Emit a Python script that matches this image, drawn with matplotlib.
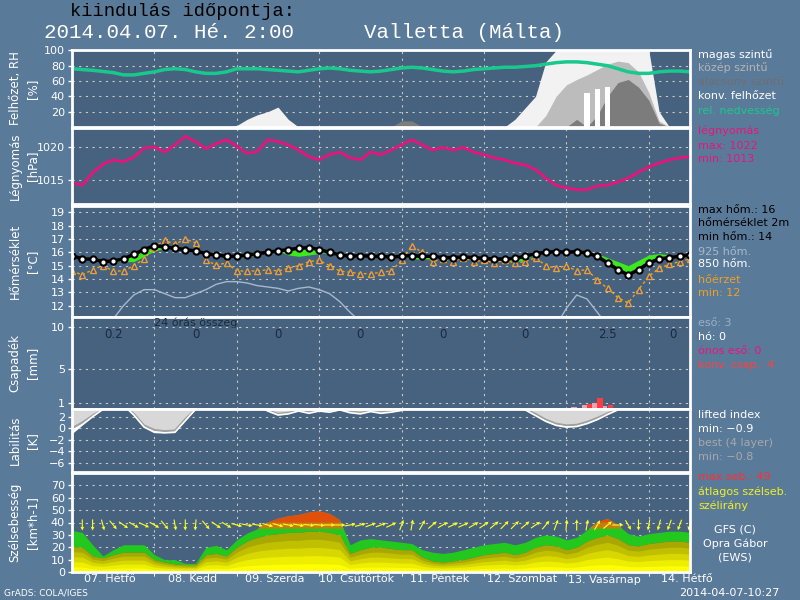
import numpy as np
import matplotlib

matplotlib.use("Agg")
import matplotlib.pyplot as plt

# 3-hourly GFS steps, hours after 2014-04-07 00 UTC
hours = np.arange(0, 181, 3)

rel_hum = [76, 75, 74, 72.5, 71, 68, 68, 70, 72, 75, 76, 75, 72, 70, 70, 72,
           76, 76, 76, 75, 74, 73, 72, 74, 76, 77, 76, 74, 73, 72, 73, 75,
           77, 78, 77, 75, 73, 72, 73, 75, 76, 77, 78, 78, 79, 80, 82, 84,
           85, 85, 84, 82, 80, 76, 72, 70, 70, 72, 73, 73, 72]
cloud_high = [0] * 16 + [2, 10, 16, 20, 26, 10] + [0] * 21 + \
             [10, 25, 40, 85] + [100] * 10 + [20, 0, 0, 0]
cloud_mid = [0] * 46 + [15, 40, 55, 62, 68, 75, 82, 86, 84, 72, 45, 8, 0, 0, 0]
cloud_low = [0] * 32 + [8, 8] + [0] * 15 + [10, 0, 15, 40, 58, 62, 52, 35, 5, 0, 0, 0]
conv_cloud = [0] * 50 + [45, 49, 52] + [0] * 8

pressure = [1014.6, 1014.2, 1016.1, 1017.4, 1018.1, 1017.8, 1018.5, 1019.9,
            1020.1, 1019.3, 1020.4, 1021.7, 1020.9, 1019.8, 1020.6, 1021.2,
            1020.2, 1019.1, 1019.4, 1021.2, 1020.9, 1020.4, 1019.6, 1018.6,
            1018.1, 1018.9, 1019.3, 1018.4, 1018.1, 1019.3, 1018.9, 1019.6,
            1020.4, 1021.2, 1020.4, 1019.6, 1020.0, 1019.6, 1020.0, 1019.3,
            1018.9, 1018.4, 1018.1, 1017.6, 1017.3, 1016.6, 1015.3, 1014.2,
            1013.8, 1013.5, 1013.5, 1014.1, 1014.2, 1014.7, 1015.3, 1016.2,
            1017.0, 1017.6, 1018.1, 1018.4, 1018.6]

temp_2m = [15.75, 15.5, 15.5, 15.3, 15.35, 15.5, 15.85, 16.2, 16.5, 16.4,
           16.3, 16.2, 16.1, 15.9, 15.8, 15.7, 15.7, 15.8, 15.9, 16.0, 16.1,
           16.2, 16.3, 16.35, 16.2, 16.0, 15.8, 15.7, 15.75, 15.7, 15.7,
           15.65, 15.7, 15.75, 15.7, 15.7, 15.6, 15.6, 15.65, 15.6, 15.55,
           15.5, 15.5, 15.55, 15.7, 15.9, 16.0, 16.05, 16.0, 16.05, 15.95,
           15.7, 15.2, 14.7, 14.3, 14.7, 15.2, 15.5, 15.6, 15.7, 15.8]
temp_band = [15.75, 15.65, 15.65, 15.3, 15.35, 15.3, 15.3, 15.7, 16.1, 16.3,
             16.3, 16.2, 16.1, 16.0, 15.9, 15.7, 15.7, 15.8, 15.9, 16.0, 16.1,
             15.8, 15.7, 15.8, 15.9, 16.0, 15.8, 15.7, 15.75, 15.7, 15.7,
             15.65, 15.7, 15.5, 15.5, 15.5, 15.6, 15.6, 15.65, 15.6, 15.55,
             15.5, 15.5, 15.3, 15.4, 15.9, 16.0, 16.05, 16.0, 16.05, 16.0,
             15.9, 15.6, 15.3, 15.0, 15.4, 15.8, 15.9, 15.8, 15.7, 15.8]
temp_925 = [9.5, 9.8, 10.2, 10.6, 11.0, 12.0, 12.8, 13.2, 13.2, 12.9, 12.6,
            12.6, 12.9, 13.2, 13.6, 13.8, 13.8, 13.7, 13.5, 13.4, 13.3, 13.1,
            13.3, 13.4, 13.2, 12.9, 12.3, 11.5, 10.8, 10.2] + [9.8] * 17 + \
           [10.5, 11.8, 12.8, 12.5, 11.5, 10.5, 9.8, 9.6, 9.5, 9.5, 9.5, 9.5, 9.5, 9.5]
feels_like = [14.6, 14.3, 14.7, 15.0, 14.6, 14.6, 15.0, 15.5, 16.4, 16.9,
              16.6, 17.0, 16.7, 15.4, 15.05, 15.2, 14.6, 14.6, 14.6, 14.7,
              14.6, 14.8, 15.0, 15.3, 15.4, 15.0, 14.6, 14.5, 14.4, 14.4,
              14.5, 14.6, 15.4, 16.5, 16.0, 15.3, 15.5, 15.3, 15.6, 15.3,
              15.4, 15.2, 15.4, 15.2, 15.3, 15.6, 15.0, 14.8, 15.0, 14.6,
              14.7, 13.9, 13.3, 12.6, 12.2, 13.2, 14.2, 14.8, 15.1, 15.3, 15.5]

rain = [0] * 49 + [0.5, 0.7, 1.0, 0.6, 0.3] + [0] * 7
conv_precip = [0] * 49 + [0.3, 0.9, 1.5, 0.7, 0] + [0] * 7
day_sums = ["0.2", "0", "0", "0", "0", "0", "2.5", "0"]

lifted = [-0.9, 0.6, 2.0, 3.3, 4, 4, 2.3, 0.2, -0.7, -0.8, -0.7, 1.3, 3.3,
          4, 4, 4, 4, 4, 4, 3.0, 2.3, 2.5, 3.0, 2.6, 3.0, 2.8, 3.2, 2.7,
          2.5, 2.9, 2.6, 2.8, 3.1] + [4] * 11 + \
         [3.2, 2.2, 1.2, 0.5, 0.2, 0.3, 0.8, 1.5, 2.4, 3.2, 4, 4, 4, 4, 4, 4, 4]
best_lifted = [0.0, 1.0, 2.2, 3.3, 4, 4, 2.5, 0.5, -0.3, -0.5, -0.4, 1.6,
               3.3, 4, 4, 4, 4, 4, 4, 3.1, 2.5, 2.7, 3.1, 2.8, 3.1, 2.9, 3.3,
               2.9, 2.7, 3.0, 2.8, 3.0, 3.2] + [4] * 11 + \
              [3.3, 2.5, 1.5, 0.8, 0.5, 0.6, 1.1, 1.8, 2.6, 3.3, 4, 4, 4, 4, 4, 4, 4]

wind_avg = [20.5, 20, 13, 11.5, 14, 16, 16, 16, 10, 8, 6.5, 6, 6, 14, 15, 13,
            20, 25, 28, 30, 31, 32, 32, 33, 33, 32, 30, 15, 18, 20, 20, 19,
            18, 18, 12, 9, 8, 9, 10, 12, 14, 15, 16, 14, 16, 20, 22, 21, 18,
            20, 25, 28, 30, 27, 22, 21, 23, 24, 25, 25, 24]
wind_gust = [33.5, 32, 22, 13, 18, 22, 22, 22, 14, 10, 10, 7, 7, 20, 21.5,
             18, 26, 31.5, 35, 40, 43, 45, 46, 48, 49, 47, 42, 22, 26, 27, 26,
             25, 24, 23, 18, 16, 15, 16, 18, 20, 22, 23, 24, 22, 24, 28, 30,
             29, 26, 28, 34, 40, 43, 38, 31, 29, 31, 32, 33, 33, 32]
wind_dir = [0, 0, 0, 345, 320, 305, 300, 295, 300, 320, 350, 0, 5, 320, 305,
            300, 285, 280, 280, 285, 285, 280, 280, 275, 275, 270, 270, 260,
            255, 250, 250, 245, 200, 190, 210, 230, 240, 245, 245, 240, 235,
            230, 225, 225, 230, 235, 220, 200, 185, 180, 190, 210, 230, 270,
            330, 0, 10, 15, 20, 20, 20]

day_labels = ["07. Hétfő", "08. Kedd", "09. Szerda", "10. Csütörtök",
              "11. Péntek", "12. Szombat", "13. Vasárnap", "14. Hétfő"]

FIG_BG = "#5a7a9a"
AX_BG = "#46627f"
W, H = 800, 600
X0, X1 = 72, 690


def fx(x):
    return x / W


def fy(y):
    return 1 - y / H


def panel(fig, top, bottom, ylim, yticks):
    ax = fig.add_axes([fx(X0), fy(bottom), (X1 - X0) / W, (bottom - top) / H])
    ax.set_facecolor(AX_BG)
    ax.set_xlim(0, 180)
    ax.set_ylim(*ylim)
    ax.set_yticks(yticks)
    ax.set_xticks(np.arange(24, 180, 24))
    ax.tick_params(axis="x", length=0, labelbottom=False)
    ax.tick_params(axis="y", colors="white", labelsize=8, length=3, width=1, pad=2)
    ax.grid(True, color="#c8c8c8", linestyle=(0, (2, 4)), linewidth=0.8)
    ax.set_axisbelow(True)
    for s in ax.spines.values():
        s.set_color("white")
        s.set_linewidth(2)
    return ax


def ylabel(fig, top, bottom, text):
    fig.text(fx(24), fy((top + bottom) / 2), text, rotation=90, ha="center",
             va="center", multialignment="center", linespacing=1.5,
             color="white", fontsize=8.5)


def legend(fig, y, text, color):
    fig.text(fx(698), fy(y), text, color=color, fontsize=8, va="center")


fig = plt.figure(figsize=(8, 6), dpi=100, facecolor=FIG_BG)

# titles
fig.text(fx(70), fy(12), "kiindulás időpontja:", family="Liberation Mono",
         fontsize=13.5, color="black", va="center")
fig.text(fx(44), fy(32), "2014.04.07. Hé. 2:00", family="Liberation Mono",
         fontsize=15, color="white", va="center")
fig.text(fx(364), fy(32), "Valletta (Málta)", family="Liberation Mono",
         fontsize=15, color="white", va="center")

# 1. clouds and relative humidity
ax1 = panel(fig, 50, 127, (0, 100.5), [20, 40, 60, 80, 100])
ax1.fill_between(hours, 0, cloud_high, color="#f2f2f2", lw=0)
ax1.fill_between(hours, 0, cloud_mid, color="#bcbcbc", lw=0)
ax1.fill_between(hours, 0, cloud_low, color="#7c7c7c", lw=0)
ax1.bar(hours, conv_cloud, width=1.5, color="white", lw=0)
ax1.plot(hours, rel_hum, color="#19c88c", lw=2.5)
ylabel(fig, 50, 127, "Felhőzet, RH\n[%]")
legend(fig, 55, "magas szintű", "white")
legend(fig, 68, "közép szintű", "#b4b4b4")
legend(fig, 82, "alacsony szintű", "#6e6e6e")
legend(fig, 96, "konv. felhőzet", "white")
legend(fig, 111, "rel. nedvesség", "#19c88c")

# 2. pressure
ax2 = panel(fig, 128, 204, (1011.3, 1023.0), [1015, 1020])
ax2.plot(hours, pressure, color="#e8147c", lw=2)
ylabel(fig, 128, 204, "Légnyomás\n[hPa]")
legend(fig, 131, "légnyomás", "#e8147c")
legend(fig, 146, "max: 1022", "#e8147c")
legend(fig, 159, "min: 1013", "#e8147c")

# 3. temperature
ax3 = panel(fig, 206, 317, (11.15, 19.47), range(12, 20))
ax3.plot(hours, temp_925, color="#a8b8cc", lw=1)
ax3.fill_between(hours, temp_2m, temp_band, color="#3ce81e", lw=0)
ax3.plot(hours, feels_like, color="#f0a020", lw=1, linestyle=(0, (2, 2)),
         marker="^", markersize=4.5, markerfacecolor="#3050c8",
         markeredgecolor="#f0a020", markeredgewidth=1)
ax3.plot(hours, temp_2m, color="black", lw=2.5, marker="o", markersize=4.5,
         markerfacecolor="white", markeredgecolor="black", markeredgewidth=1.5)
ylabel(fig, 206, 317, "Hőmérséklet\n[°C]")
legend(fig, 210, "max hőm.: 16", "black")
legend(fig, 223, "hőmérséklet 2m", "black")
legend(fig, 237, "min hőm.: 14", "black")
legend(fig, 252, "925 hőm.", "#a8b8cc")
legend(fig, 264, "850 hőm.", "white")
legend(fig, 280, "hőérzet", "#f0a020")
legend(fig, 293, "min: 12", "#f0a020")

# 4. precipitation
ax4 = panel(fig, 317, 409, (0.25, 11.15), [1, 5, 10])
ax4.bar(hours - 0.8, rain, width=1.5, color="#f0a0b4", lw=0)
ax4.bar(hours + 0.8, conv_precip, width=1.5, color="#ff3c3c", lw=0)
ax4.text(36, 10.45, "24 órás összeg", color="#1c2a3a", fontsize=8,
         ha="center", va="center")
sum_x = [12 + 24 * k for k in range(7)] + [175]
for xs, s in zip(sum_x, day_sums):
    ax4.text(xs, 9.05, s, color="#1c2a3a", fontsize=8.5, ha="center", va="center")
ylabel(fig, 317, 409, "Csapadék\n[mm]")
legend(fig, 323, "eső: 3", "#9ab0c8")
legend(fig, 337, "hó: 0", "white")
legend(fig, 351, "ónos eső: 0", "#e8147c")
legend(fig, 365, "konv. csap.: 4", "#ff4040")

# 5. lability
ax5 = panel(fig, 409, 472, (-7.6, 3.35), [2, 0, -2, -4, -6])
li = np.array(lifted)
bli = np.array(best_lifted)
ax5.fill_between(hours, li, 3.35, where=li < 3.35, interpolate=True,
                 color="#d8d8d8", lw=0)
ax5.fill_between(hours, li, bli, where=li < bli, interpolate=True,
                 color="white", lw=0)
ax5.plot(hours, bli, color="#a0a0a0", lw=1.5)
ax5.plot(hours, li, color="white", lw=1.2)
ylabel(fig, 409, 472, "Labilitás\n[K]")
legend(fig, 415, "lifted index", "white")
legend(fig, 429, "min: −0.9", "white")
legend(fig, 443, "best (4 layer)", "#a8a8a8")
legend(fig, 457, "min: −0.8", "#a8a8a8")

# 6. wind
ax6 = panel(fig, 473, 572, (0, 80), range(0, 80, 10))
avg = np.array(wind_avg)
gust = np.array(wind_gust)
ax6.fill_between(hours, avg, gust, color="#22c81e", lw=0)
ax6.fill_between(hours, np.maximum(avg, 35), gust, where=gust > 35,
                 interpolate=True, color="#c08010", lw=0)
ax6.fill_between(hours, np.maximum(avg, 40), gust, where=gust > 40,
                 interpolate=True, color="#e0500a", lw=0)
for frac, col in zip([1.0, 0.8, 0.6, 0.4, 0.2],
                     ["#a8a800", "#c0c000", "#d8d800", "#eeee00", "#ffff00"]):
    ax6.fill_between(hours, 0, avg * frac, color=col, lw=0)
d = np.radians(wind_dir)
ax6.quiver(hours, np.full(len(hours), 38), -np.sin(d), -np.cos(d),
           color="#ffff20", angles="uv", pivot="middle", scale=9,
           scale_units="inches", width=0.0018, headwidth=3.5, headlength=3.5,
           headaxislength=3)
ax6.set_xticks(np.arange(24, 180, 24))
ax6.tick_params(axis="x", length=3, colors="white", direction="out")
for k, lab in enumerate(day_labels):
    ax6.text(11 + 24 * k, -6, lab, color="white", fontsize=8,
             ha="center", va="center", clip_on=False)
ylabel(fig, 473, 572, "Szélsebesség\n[km*h-1]")
legend(fig, 477, "max seb.: 49", "#ff3030")
legend(fig, 492, "átlagos szélseb.", "#f0f020")
legend(fig, 506, "szélirány", "#f0f020")
for y, t in [(530, "GFS (C)"), (544, "Opra Gábor"), (557, "(EWS)")]:
    fig.text(fx(735), fy(y), t, color="white", fontsize=8, ha="center", va="center")

fig.text(fx(4), fy(593), "GrADS: COLA/IGES", color="white", fontsize=6.5, va="center")
fig.text(fx(780), fy(593), "2014-04-07-10:27", color="white", fontsize=8,
         ha="right", va="center")

fig.savefig("out.png", dpi=100, facecolor=FIG_BG)
